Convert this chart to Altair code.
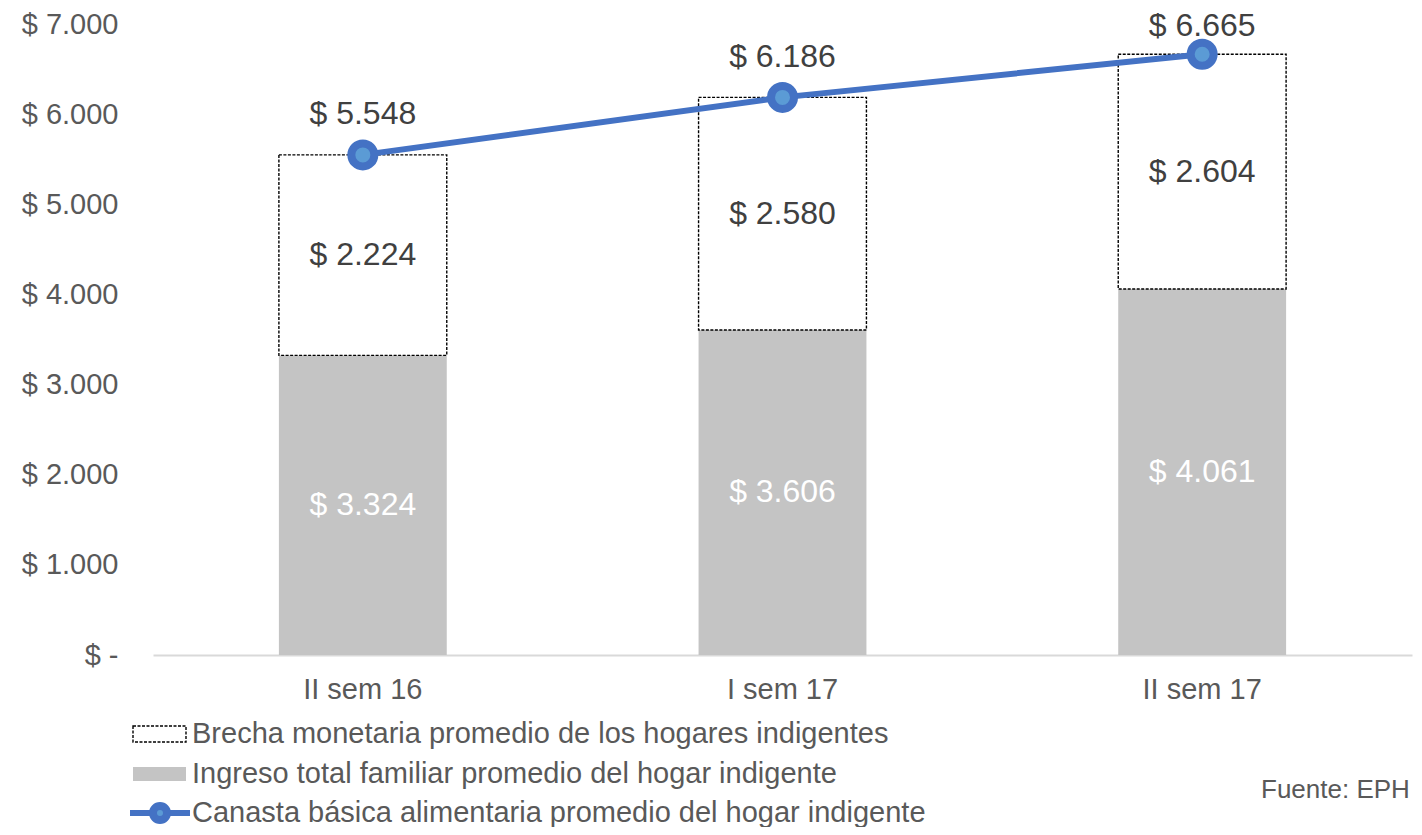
import altair as alt
import pandas as pd

categories = ["II sem 16", "I sem 17", "II sem 17"]
ingreso = [3324, 3606, 4061]
brecha = [2224, 2580, 2604]
canasta = [5548, 6186, 6665]

legend_labels = [
    "Brecha monetaria promedio de los hogares indigentes",
    "Ingreso total familiar promedio del hogar indigente",
    "Canasta básica alimentaria promedio del hogar indigente",
]
source_note = "Fuente: EPH"

# layout: pixel offset of each line label above its point
canasta_label_offset = [-41, -40, -28]


def fmt(v):
    return "$ " + f"{v:,}".replace(",", ".")


df = pd.DataFrame({
    "cat": categories,
    "ingreso": ingreso,
    "brecha": brecha,
    "canasta": canasta,
})
df["top"] = df["ingreso"] + df["brecha"]
df["ingreso_mid"] = df["ingreso"] / 2
df["brecha_mid"] = df["ingreso"] + df["brecha"] / 2
df["ingreso_lbl"] = df["ingreso"].map(fmt)
df["brecha_lbl"] = df["brecha"].map(fmt)
df["canasta_lbl"] = df["canasta"].map(fmt)

FONT = "Liberation Sans"
TXT = "#595959"
LBL = "#404040"
BLUE = "#4472C4"
LBLUE = "#5B9BD5"
GRAY = "#C4C4C4"
AX_FS = 29
DL_FS = 32

xenc = alt.X(
    "cat:N",
    sort=categories,
    title=None,
    scale=alt.Scale(paddingInner=0.6, paddingOuter=0.3),
    axis=alt.Axis(
        labelAngle=0, labelFontSize=AX_FS, labelColor=TXT, labelFont=FONT,
        ticks=False, labelPadding=20, domainColor="#D9D9D9", domainWidth=2,
    ),
)
yscale = alt.Scale(domain=[0, 7000], nice=False)
yaxis = alt.Axis(
    values=[0, 1000, 2000, 3000, 4000, 5000, 6000, 7000],
    labelExpr="datum.value == 0 ? '$ -' : '$ ' + replace(format(datum.value, ','), ',', '.')",
    labelFontSize=AX_FS, labelColor=TXT, labelFont=FONT,
    grid=False, domain=False, ticks=False, labelPadding=35,
)

base = alt.Chart(df)
xs = alt.X("cat:N", sort=categories)

bar_ing = base.mark_bar(color=GRAY).encode(
    x=xenc,
    y=alt.Y("ingreso:Q", scale=yscale, axis=yaxis, title=None),
)
bar_gap = base.mark_bar(
    fill="white", stroke="black", strokeWidth=1.4, strokeDash=[3, 1.5]
).encode(x=xs, y=alt.Y("ingreso:Q"), y2="top:Q")
lbl_ing = base.mark_text(color="white", fontSize=DL_FS, font=FONT).encode(
    x=xs, y="ingreso_mid:Q", text="ingreso_lbl:N"
)
lbl_gap = base.mark_text(color=LBL, fontSize=DL_FS, font=FONT).encode(
    x=xs, y="brecha_mid:Q", text="brecha_lbl:N"
)
line = base.mark_line(color=BLUE, strokeWidth=6).encode(x=xs, y="canasta:Q")
pts = base.mark_point(
    shape="circle", filled=True, fill=LBLUE, stroke=BLUE, strokeWidth=8,
    size=529, opacity=1,
).encode(x=xs, y="canasta:Q")
lbl_can = [
    base.transform_filter(alt.datum.cat == c).mark_text(
        color=LBL, fontSize=DL_FS, font=FONT, dy=off
    ).encode(x=xs, y="canasta:Q", text="canasta_lbl:N")
    for c, off in zip(categories, canasta_label_offset)
]

# custom legend (layout positions in pixels, relative to plot origin)
one = alt.Chart(pd.DataFrame({"k": [0]}))
leg_rect1 = one.mark_rect(
    fill="white", stroke="black", strokeWidth=1.4, strokeDash=[3, 1.5]
).encode(x=alt.value(-20), x2=alt.value(33), y=alt.value(702), y2=alt.value(718))
leg_rect2 = one.mark_rect(fill=GRAY).encode(
    x=alt.value(-20), x2=alt.value(33), y=alt.value(743), y2=alt.value(757)
)
leg_line = one.mark_rule(color=BLUE, strokeWidth=6).encode(
    x=alt.value(-23), x2=alt.value(37), y=alt.value(789)
)
leg_pt = one.mark_point(
    shape="circle", filled=True, fill=LBLUE, stroke=BLUE, strokeWidth=8,
    size=196, opacity=1,
).encode(x=alt.value(7), y=alt.value(789))

leg_txt = []
for i, yy in enumerate([710, 750, 789]):
    leg_txt.append(
        alt.Chart(pd.DataFrame({"label": [legend_labels[i]]})).mark_text(
            align="left", baseline="middle", fontSize=AX_FS, font=FONT, color=TXT
        ).encode(x=alt.value(39), y=alt.value(yy), text="label:N")
    )
src = alt.Chart(pd.DataFrame({"label": [source_note]})).mark_text(
    align="left", baseline="middle", fontSize=26, font=FONT, color=TXT
).encode(x=alt.value(1108), y=alt.value(766), text="label:N")

chart = alt.layer(
    bar_ing, bar_gap, lbl_ing, lbl_gap, line, pts, *lbl_can,
    leg_rect1, leg_rect2, leg_line, leg_pt, *leg_txt, src,
).properties(
    width=1259, height=631,
    padding={"left": 145, "top": 16, "right": 2, "bottom": 172},
    autosize=alt.AutoSizeParams(type="none"),
).configure_view(stroke=None)

chart.save("out.html", embed_options={"renderer": "svg", "actions": False})
